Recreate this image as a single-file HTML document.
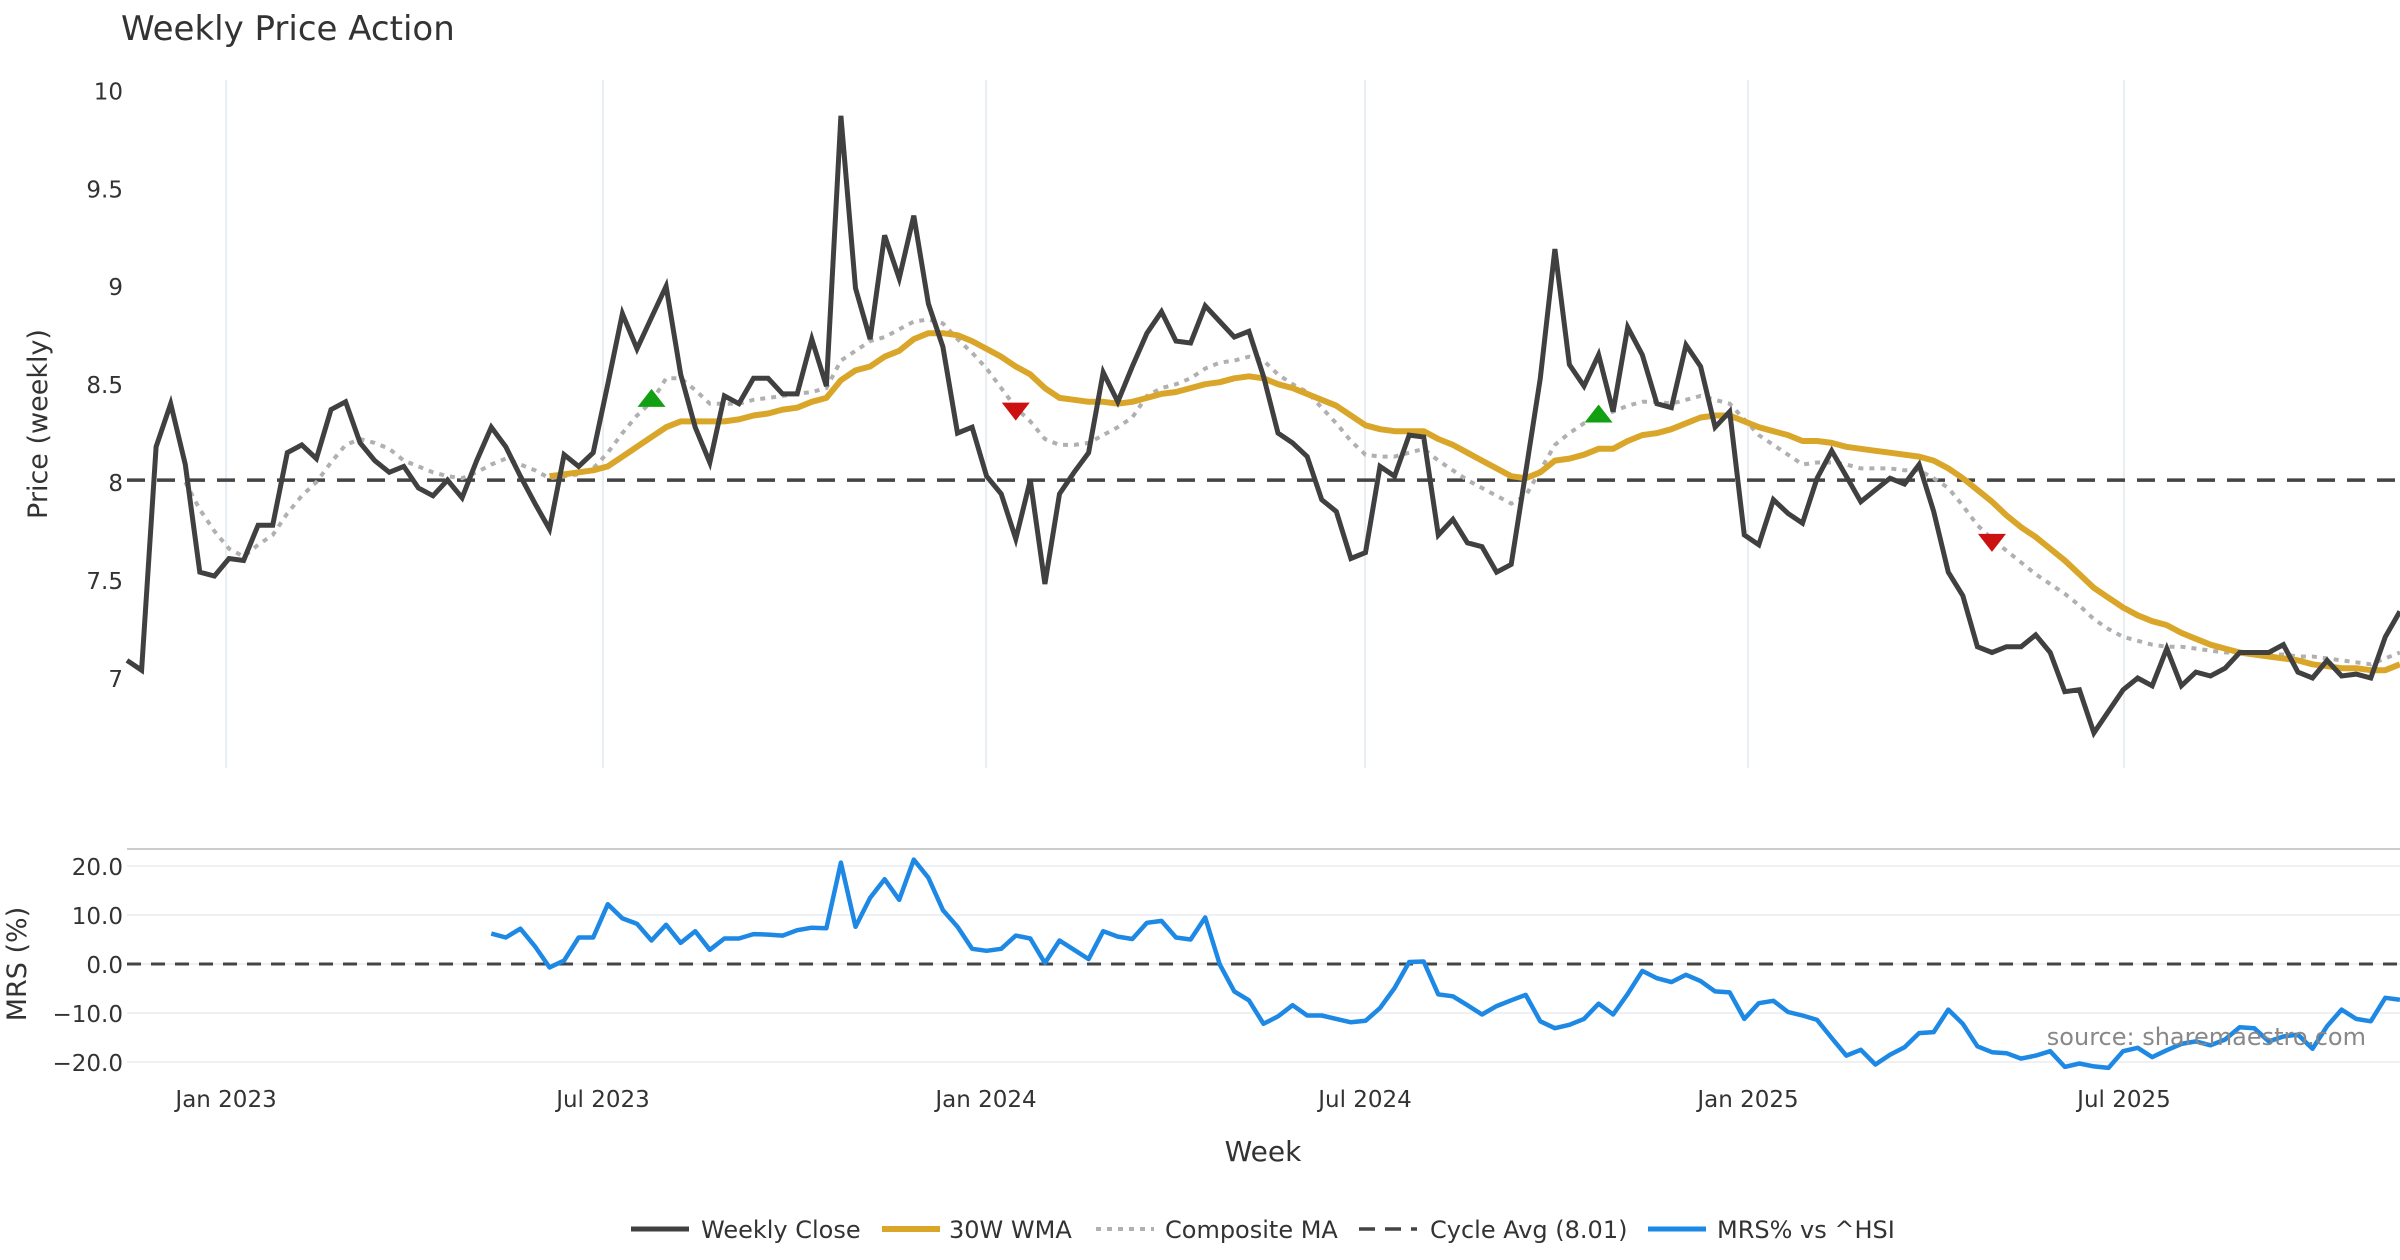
<!DOCTYPE html>
<html><head><meta charset="utf-8">
<style>
html,body{margin:0;padding:0;background:#fff;}
svg{display:block;font-family:"DejaVu Sans","Liberation Sans",sans-serif;}
</style></head>
<body>
<svg id="chart" width="2400" height="1260" viewBox="0 0 2400 1260" xmlns="http://www.w3.org/2000/svg">
<rect width="2400" height="1260" fill="#fff"/>
<text x="121" y="40" font-size="34" fill="#333">Weekly Price Action</text>
<text transform="translate(47,424) rotate(-90)" text-anchor="middle" font-size="27" fill="#333">Price (weekly)</text>
<text transform="translate(26,964) rotate(-90)" text-anchor="middle" font-size="27" fill="#333">MRS (%)</text>
<text x="1263" y="1161" text-anchor="middle" font-size="28" fill="#333">Week</text>
<g id="grid"></g>
<g id="series"></g>
<g id="ticks"></g>
<text x="2366" y="1045" text-anchor="end" font-size="24" fill="#888">source: sharemaestro.com</text>
<g id="legend"></g>
</svg>
<script>
const closeVals=[7.09,7.04,8.18,8.40,8.09,7.54,7.52,7.61,7.60,7.78,7.78,8.15,8.19,8.12,8.37,8.41,8.20,8.11,8.05,8.08,7.97,7.93,8.01,7.92,8.11,8.28,8.18,8.03,7.89,7.76,8.14,8.08,8.15,8.50,8.86,8.68,8.84,9.00,8.55,8.28,8.10,8.44,8.40,8.53,8.53,8.45,8.45,8.73,8.49,9.87,8.99,8.73,9.26,9.04,9.36,8.91,8.69,8.25,8.28,8.03,7.94,7.71,8.01,7.48,7.94,8.05,8.15,8.56,8.41,8.59,8.76,8.87,8.72,8.71,8.90,8.82,8.74,8.77,8.54,8.25,8.20,8.13,7.91,7.85,7.61,7.64,8.08,8.03,8.24,8.23,7.73,7.81,7.69,7.67,7.54,7.58,8.05,8.53,9.19,8.60,8.49,8.65,8.36,8.79,8.65,8.40,8.38,8.70,8.59,8.28,8.36,7.73,7.68,7.91,7.84,7.79,8.02,8.16,8.03,7.90,7.96,8.02,7.99,8.09,7.85,7.54,7.42,7.16,7.13,7.16,7.16,7.22,7.13,6.93,6.94,6.72,6.83,6.94,7.00,6.96,7.15,6.96,7.03,7.01,7.05,7.13,7.13,7.13,7.17,7.03,7.00,7.09,7.01,7.02,7.00,7.21,7.34];
const wmaStart=29;
const wmaVals=[8.03,8.04,8.05,8.06,8.08,8.13,8.18,8.23,8.28,8.31,8.31,8.31,8.31,8.32,8.34,8.35,8.37,8.38,8.41,8.43,8.52,8.57,8.59,8.64,8.67,8.73,8.76,8.76,8.75,8.72,8.68,8.64,8.59,8.55,8.48,8.43,8.42,8.41,8.41,8.40,8.41,8.43,8.45,8.46,8.48,8.50,8.51,8.53,8.54,8.53,8.50,8.48,8.45,8.42,8.39,8.34,8.29,8.27,8.26,8.26,8.26,8.22,8.19,8.15,8.11,8.07,8.03,8.02,8.05,8.11,8.12,8.14,8.17,8.17,8.21,8.24,8.25,8.27,8.30,8.33,8.34,8.34,8.31,8.28,8.26,8.24,8.21,8.21,8.20,8.18,8.17,8.16,8.15,8.14,8.13,8.11,8.07,8.02,7.96,7.90,7.83,7.77,7.72,7.66,7.60,7.53,7.46,7.41,7.36,7.32,7.29,7.27,7.23,7.20,7.17,7.15,7.13,7.12,7.11,7.10,7.09,7.07,7.06,7.05,7.05,7.04,7.04,7.07];
const compStart=4;
const compVals=[8.00,7.86,7.75,7.66,7.62,7.68,7.73,7.84,7.93,8.00,8.10,8.19,8.22,8.20,8.17,8.11,8.08,8.05,8.03,8.02,8.05,8.09,8.12,8.09,8.06,8.02,8.03,8.04,8.07,8.15,8.25,8.34,8.41,8.53,8.53,8.47,8.40,8.40,8.40,8.42,8.43,8.44,8.45,8.46,8.48,8.62,8.67,8.72,8.74,8.78,8.82,8.83,8.81,8.73,8.66,8.58,8.48,8.38,8.31,8.22,8.19,8.19,8.20,8.24,8.28,8.33,8.44,8.48,8.50,8.53,8.58,8.61,8.62,8.64,8.62,8.55,8.50,8.46,8.38,8.30,8.21,8.14,8.13,8.13,8.15,8.17,8.11,8.06,8.01,7.97,7.93,7.89,7.93,8.06,8.19,8.25,8.30,8.33,8.36,8.39,8.41,8.41,8.40,8.42,8.44,8.42,8.40,8.32,8.24,8.19,8.14,8.09,8.10,8.10,8.09,8.07,8.07,8.07,8.06,8.06,8.02,7.97,7.88,7.78,7.71,7.65,7.59,7.53,7.48,7.43,7.37,7.30,7.25,7.21,7.19,7.17,7.16,7.16,7.15,7.14,7.13,7.13,7.13,7.12,7.12,7.11,7.11,7.10,7.09,7.08,7.07,7.10,7.13];
const mrsStart=25;
const mrsVals=[6.2,5.4,7.2,3.6,-0.7,0.7,5.4,5.4,12.2,9.3,8.2,4.8,8.0,4.3,6.7,2.9,5.2,5.2,6.1,6.0,5.8,6.9,7.4,7.3,20.7,7.6,13.5,17.3,13.1,21.3,17.6,11.0,7.6,3.1,2.7,3.1,5.8,5.2,0.2,4.8,2.9,1.0,6.7,5.6,5.1,8.4,8.8,5.4,5.0,9.5,-0.1,-5.6,-7.4,-12.2,-10.7,-8.4,-10.5,-10.5,-11.2,-11.9,-11.6,-9.0,-4.9,0.4,0.5,-6.2,-6.6,-8.4,-10.3,-8.6,-7.4,-6.3,-11.7,-13.1,-12.4,-11.2,-8.1,-10.3,-6.1,-1.4,-2.9,-3.7,-2.2,-3.5,-5.6,-5.8,-11.2,-8.0,-7.5,-9.8,-10.5,-11.4,-15.1,-18.7,-17.5,-20.5,-18.5,-17.0,-14.1,-13.9,-9.3,-12.2,-16.8,-18.0,-18.2,-19.3,-18.7,-17.8,-21.0,-20.3,-20.9,-21.2,-17.8,-17.1,-19.0,-17.6,-16.3,-15.8,-16.6,-15.4,-12.9,-13.1,-15.8,-14.8,-14.4,-17.3,-12.7,-9.3,-11.2,-11.7,-6.9,-7.3];
const cycleAvg=8.01;
const buyIdx=[36,101];
const buyVals=[8.43,8.35];
const sellIdx=[61,128];
const sellVals=[8.36,7.69];
const priceTicks=[7,7.5,8,8.5,9,9.5,10];
const priceTickLabels=["7","7.5","8","8.5","9","9.5","10"];
const mrsTicks=[20,10,0,-10,-20];
const mrsTickLabels=["20.0","10.0","0.0","\u221210.0","\u221220.0"];
const dateTickIdx=[6.8,32.67,58.96,84.97,111.26,137.06];
const dateTickLabels=["Jan 2023","Jul 2023","Jan 2024","Jul 2024","Jan 2025","Jul 2025"];

const NS="http://www.w3.org/2000/svg";
const X0=127,STEP=14.57,XR=2400;
const xS=i=>X0+i*STEP;
const yP=v=>90.3+(10-v)*195.9;
const yM=v=>964-v*4.9;
function mk(tag,attrs,parent){const e=document.createElementNS(NS,tag);for(const k in attrs)e.setAttribute(k,attrs[k]);parent.appendChild(e);return e;}
const gridG=document.getElementById('grid'),serG=document.getElementById('series'),tkG=document.getElementById('ticks'),lgG=document.getElementById('legend');

const defsEl=mk('defs',{},document.getElementById('chart'));
const cp=mk('clipPath',{id:'clipMain'},defsEl);mk('rect',{x:X0-4,y:80,width:XR-X0+4,height:690},cp);
const cp2=mk('clipPath',{id:'clipMrs'},defsEl);mk('rect',{x:X0-4,y:850,width:XR-X0+4,height:230},cp2);

dateTickIdx.forEach((d,k)=>{
  const l=mk('line',{x1:xS(d),x2:xS(d),y1:80,y2:768,stroke:'#e8eef2','stroke-width':2},gridG);
  
  
  const t=mk('text',{x:xS(d),y:1107,'text-anchor':'middle','font-size':23,fill:'#333'},tkG);
  t.textContent=dateTickLabels[k];
  
  
});
priceTicks.forEach((v,k)=>{
  const t=mk('text',{x:123,y:yP(v)+9,'text-anchor':'end','font-size':23,fill:'#333'},tkG);
  t.textContent=priceTickLabels[k];
  
  
});
const panelTop=mk('line',{x1:X0,x2:XR,y1:849,y2:849,stroke:'#ccc','stroke-width':2},gridG);


mrsTicks.forEach((v,k)=>{
  const l=mk('line',{x1:X0,x2:XR,y1:yM(v),y2:yM(v),stroke:'#eef0f3','stroke-width':2},gridG);
  
  
  const t=mk('text',{x:123,y:yM(v)+9,'text-anchor':'end','font-size':23,fill:'#333'},tkG);
  t.textContent=mrsTickLabels[k];
  
  
});

function pathFrom(vals,start,yf){let d='';vals.forEach((v,k)=>{if(v==null)return;d+=(d?'L':'M')+xS(start+k).toFixed(1)+','+yf(v).toFixed(1);});return d;}

const gMain=mk('g',{'clip-path':'url(#clipMain)'},serG);
const cyc=mk('line',{x1:X0,x2:XR,y1:yP(cycleAvg),y2:yP(cycleAvg),stroke:'#444','stroke-width':3.5,'stroke-dasharray':'18 12'},gMain);


const pc=mk('path',{d:pathFrom(compVals,compStart,yP),fill:'none',stroke:'#b0b0b0','stroke-width':4,'stroke-dasharray':'5 6'},gMain);


const pw=mk('path',{d:pathFrom(wmaVals,wmaStart,yP),fill:'none',stroke:'#d9a62a','stroke-width':6,'stroke-linejoin':'round'},gMain);


const pcl=mk('path',{d:pathFrom(closeVals,0,yP),fill:'none',stroke:'#404040','stroke-width':5,'stroke-linejoin':'miter'},gMain);


buyIdx.forEach((ix,k)=>{
  const x=xS(ix),y=yP(buyVals[k]);
  const p=mk('polygon',{points:`${x-14},${y+9} ${x+14},${y+9} ${x},${y-9}`,fill:'#12a012'},gMain);
  
  
});
sellIdx.forEach((ix,k)=>{
  const x=xS(ix),y=yP(sellVals[k]);
  const p=mk('polygon',{points:`${x-14},${y-9} ${x+14},${y-9} ${x},${y+9}`,fill:'#cc1111'},gMain);
  
  
});

const gM=mk('g',{'clip-path':'url(#clipMrs)'},serG);
const zl=mk('line',{x1:X0,x2:XR,y1:yM(0),y2:yM(0),stroke:'#444','stroke-width':3,'stroke-dasharray':'14 10'},gM);


const pm=mk('path',{d:pathFrom(mrsVals,mrsStart,yM),fill:'none',stroke:'#1e88e5','stroke-width':4.5,'stroke-linejoin':'round'},gM);



const items=[
 {x:631,tx:701,label:'Weekly Close',stroke:'#404040',dash:null,w:5},
 {x:882,tx:949,label:'30W WMA',stroke:'#d9a62a',dash:null,w:6},
 {x:1096,tx:1165,label:'Composite MA',stroke:'#b0b0b0',dash:'5 6',w:4},
 {x:1359,tx:1430,label:'Cycle Avg (8.01)',stroke:'#444',dash:'16 10',w:3.5},
 {x:1648,tx:1717,label:'MRS% vs ^HSI',stroke:'#1e88e5',dash:null,w:5}
];
items.forEach(it=>{
  const g=mk('g',{},lgG);
  
  
  const a={x1:it.x,x2:it.x+58,y1:1229,y2:1229,stroke:it.stroke,'stroke-width':it.w};
  if(it.dash)a['stroke-dasharray']=it.dash;
  mk('line',a,g);
  const t=mk('text',{x:it.tx,y:1238,'font-size':24,fill:'#333'},g);
  t.textContent=it.label;
});
</script>
</body></html>
